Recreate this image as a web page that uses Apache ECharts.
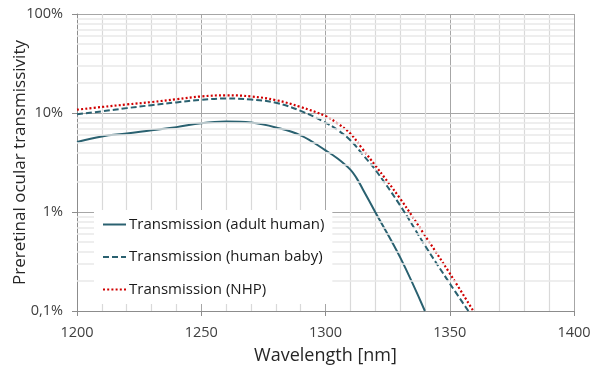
<!DOCTYPE html>
<html>
<head>
<meta charset="utf-8">
<script src="https://cdn.jsdelivr.net/npm/echarts@6/dist/echarts.min.js"></script>
<style>html,body{margin:0;padding:0;background:#fff}#c{width:592px;height:369px}</style>
</head>
<body>
<div id="c"></div>
<script>
const wavelengthAdult = [1200,1210,1220,1230,1240,1250,1260,1270,1280,1290,1300,1305,1310,1312.5,1315,1320,1330,1340];
const adultHuman =      [5.1, 5.8, 6.2, 6.7, 7.2, 7.9, 8.2, 8.0, 7.15,5.95,4.2, 3.45,2.68,2.2,   1.7, 1.0, 0.35,0.1];
const wavelengthBaby = [1200,1210,1220,1230,1240,1250,1260,1270,1280,1290,1300,1305,1310,1315,1320,1330,1340,1350,1357.5];
const humanBaby =      [9.7, 10.4,11.2,12.0,12.8,13.6,14.0,13.7,12.7,10.5,8.0, 6.7, 5.3, 3.8, 2.68,1.17,0.46,0.19,0.1];
const wavelengthNHP = [1200,1210,1220,1230,1240,1250,1260,1270,1280,1290,1300,1305,1310,1315,1320,1330,1340,1350,1359.5];
const nhp =           [10.8,11.5,12.2,12.9,13.8,14.7,15.1,14.7,13.5,11.5,9.3, 7.8, 6.2, 4.3, 2.96,1.37,0.58,0.24,0.1];
const seriesNames = ['Transmission (adult human)','Transmission (human baby)','Transmission (NHP)'];
const minorGridValues = [0.2,0.3,0.4,0.5,0.6,0.7,0.8,0.9,2,3,4,5,6,7,8,9,20,30,40,50,60,70,80,90];

const zip = (xs, ys) => xs.map((x, i) => [x, ys[i]]);
const chart = echarts.init(document.getElementById('c'));
const font = 'Open Sans, sans-serif';
chart.setOption({
  animation: false,
  grid: {left: 77, right: 18, top: 14, bottom: 58, outerBoundsMode: 'none'},
  legend: {
    data: seriesNames,
    orient: 'vertical',
    left: 94, top: 210, z: 50,
    backgroundColor: '#ffffff',
    padding: [7, 8, 7, 8],
    itemWidth: 23, itemHeight: 14, itemGap: 17.5,
    itemStyle: {opacity: 0},
    textStyle: {fontFamily: font, fontSize: 15, color: '#1a1a1a', padding: [0,0,0,-2]}
  },
  xAxis: {
    type: 'value', min: 1200, max: 1400, interval: 50,
    name: 'Wavelength [nm]', nameLocation: 'middle', nameGap: 36, nameMoveOverlap: false,
    nameTextStyle: {fontFamily: font, fontSize: 18, color: '#262626'},
    axisLine: {show: true, lineStyle: {color: '#8c8c8c', width: 1}},
    axisTick: {show: true, length: 5, lineStyle: {color: '#8c8c8c'}},
    axisLabel: {fontFamily: font, fontSize: 14.5, color: '#404040', margin: 14, formatter: v => String(v)},
    splitLine: {show: true, lineStyle: {color: '#a6a6a6', width: 1}},
    minorTick: {show: true, splitNumber: 5, length: 0, lineStyle: {color: 'rgba(0,0,0,0)'}},
    minorSplitLine: {show: true, lineStyle: {color: '#d9d9d9', width: 1.2}}
  },
  yAxis: {
    type: 'log', logBase: 10, min: 0.1, max: 100,
    name: 'Preretinal ocular transmissivity', nameLocation: 'middle', nameGap: 48, nameMoveOverlap: false,
    nameTextStyle: {fontFamily: font, fontSize: 17, color: '#262626'},
    axisLine: {show: true, lineStyle: {color: '#8c8c8c', width: 1}},
    axisTick: {show: true, length: 5, lineStyle: {color: '#8c8c8c'}},
    axisLabel: {fontFamily: font, fontSize: 14.5, color: '#404040', margin: 14,
      formatter: v => (v < 1 ? String(v).replace('.', ',') : String(Math.round(v))) + '%'},
    splitLine: {show: true, lineStyle: {color: '#a6a6a6', width: 1}}
  },
  series: [
    {
      type: 'line', name: 'minor', data: [], silent: true, z: 1,
      markLine: {
        silent: true, symbol: 'none', animation: false,
        label: {show: false},
        lineStyle: {color: '#e8e8e8', width: 1.5, type: 'solid'},
        data: minorGridValues.map(v => ({yAxis: v}))
      }
    },
    {
      type: 'line', name: seriesNames[0], data: zip(wavelengthAdult, adultHuman),
      smooth: 0.4, showSymbol: false, symbol: 'none', z: 3,
      itemStyle: {color: '#2a6170'},
      lineStyle: {color: '#2a6170', width: 2}
    },
    {
      type: 'line', name: seriesNames[1], data: zip(wavelengthBaby, humanBaby),
      smooth: 0.4, showSymbol: false, symbol: 'none', z: 3,
      itemStyle: {color: '#2a6170'},
      lineStyle: {color: '#2a6170', width: 2, type: [6, 3]}
    },
    {
      type: 'line', name: seriesNames[2], data: zip(wavelengthNHP, nhp),
      smooth: 0.4, showSymbol: false, symbol: 'none', z: 3,
      itemStyle: {color: '#d00000'},
      lineStyle: {color: '#d00000', width: 2.2, type: [2, 2.2]}
    }
  ]
});
</script>
</body>
</html>
